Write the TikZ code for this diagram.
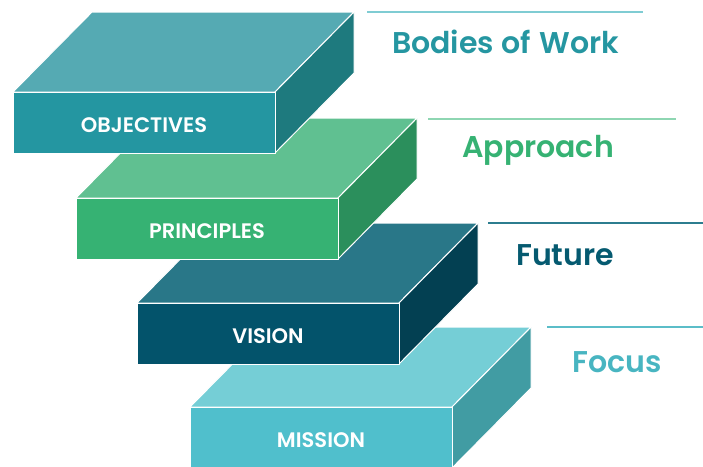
\documentclass[tikz,border=0pt]{standalone}
\usepackage{fontspec}
\setmainfont{Poppins}[BoldFont={Poppins SemiBold}]
\definecolor{oTop}{HTML}{55AAB3}
\definecolor{oFront}{HTML}{2496A1}
\definecolor{oSide}{HTML}{1E7A7E}
\definecolor{pTop}{HTML}{60C091}
\definecolor{pFront}{HTML}{36B273}
\definecolor{pSide}{HTML}{2B8F5C}
\definecolor{vTop}{HTML}{297788}
\definecolor{vFront}{HTML}{03536B}
\definecolor{vSide}{HTML}{034052}
\definecolor{mTop}{HTML}{75CED6}
\definecolor{mFront}{HTML}{50BFCC}
\definecolor{mSide}{HTML}{419CA3}
\definecolor{oLine}{HTML}{7FCCD3}
\definecolor{pLine}{HTML}{8ED6B2}
\definecolor{vLine}{HTML}{2C7D8F}
\definecolor{mLine}{HTML}{5BBDC8}
\definecolor{oText}{HTML}{2596A1}
\definecolor{pText}{HTML}{36B273}
\definecolor{vText}{HTML}{055A70}
\definecolor{mText}{HTML}{48B5C1}
\newcommand\slabbox[7]{%
  % #1 x, #2 y (front top-left), #3 top, #4 front, #5 side, #6 label, #7 name
  \fill[#3,draw=white,line width=1pt,line join=round]
    (#1,#2) -- ++(79,-80) -- ++(262,0) -- ++(-79,80) -- cycle;
  \fill[#5,draw=white,line width=1pt,line join=round]
    (#1+262,#2) -- ++(79,-80) -- ++(0,61) -- ++(-79,80) -- cycle;
  \fill[#4,draw=white,line width=1pt,line join=round]
    (#1,#2) rectangle ++(262,61);
  \node[boxlabel] (#7) at (#1+131,#2+40) {#6};
}
\tikzset{
  boxlabel/.style={text=white,font=\fontsize{21}{21}\selectfont\bfseries,inner sep=0pt,anchor=base},
  headlabel/.style={font=\fontsize{30}{30}\selectfont\bfseries,inner sep=0pt,anchor=base west},
  rule/.style={line width=1.3pt}
}
\begin{document}
\begin{tikzpicture}[x=1pt,y=-1pt]
\useasboundingbox (0,0) rectangle (703,466);
\slabbox{190}{407}{mTop}{mFront}{mSide}{MISSION}{mission}
\slabbox{137}{303}{vTop}{vFront}{vSide}{VISION}{vision}
\slabbox{76}{198}{pTop}{pFront}{pSide}{PRINCIPLES}{principles}
\slabbox{13}{92}{oTop}{oFront}{oSide}{OBJECTIVES}{objectives}
\coordinate (l1a) at (367,12); \coordinate (l1b) at (643,12);
\coordinate (l2a) at (428,119); \coordinate (l2b) at (676,119);
\coordinate (l3a) at (488,223); \coordinate (l3b) at (703,223);
\coordinate (l4a) at (547,327); \coordinate (l4b) at (703,327);
\draw[rule,oLine] (l1a) -- (l1b);
\draw[rule,pLine] (l2a) -- (l2b);
\draw[rule,vLine] (l3a) -- (l3b);
\draw[rule,mLine] (l4a) -- (l4b);
\node[headlabel,text=oText] (bodies) at (392,53) {Bodies of\hspace{1.5pt} Work};
\node[headlabel,text=pText] (approach) at (462,157) {Approach};
\node[headlabel,text=vText] (future) at (516,265) {Future};
\node[headlabel,text=mText] (focus) at (572,372) {Focus};
\end{tikzpicture}
\end{document}
